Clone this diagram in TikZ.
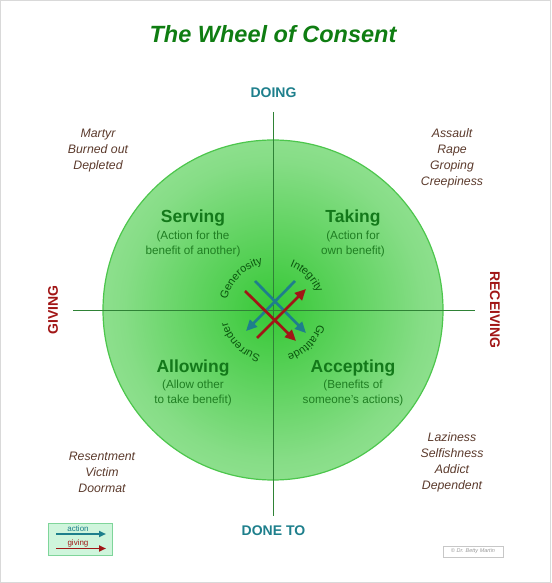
\documentclass[tikz,border=0pt]{standalone}
\usepackage{fontspec}
\setmainfont{Liberation Sans}
\usepackage{tikz}
\usetikzlibrary{arrows.meta,decorations.text}
\usepackage{xcolor}
\definecolor{TitleGreen}{HTML}{0F7D12}
\definecolor{QuadGreen}{HTML}{13791A}
\definecolor{SubGreen}{HTML}{1F7E22}
\definecolor{ArcGreen}{HTML}{0A560E}
\definecolor{AxisGreen}{HTML}{2F8236}
\definecolor{RimGreen}{HTML}{4CC64C}
\definecolor{WheelIn}{HTML}{36C836}
\definecolor{WheelMid}{HTML}{86DD86}
\definecolor{WheelOut}{HTML}{C2F4C2}
\definecolor{DoTeal}{HTML}{1E7F8C}
\definecolor{GiveRed}{HTML}{A11616}
\definecolor{ShadowBrown}{HTML}{5B3A2C}
\definecolor{KeyFill}{HTML}{CFF5DC}
\definecolor{KeyRim}{HTML}{7FD59A}
\newcommand{\fsz}[1]{\fontsize{#1}{#1}\selectfont}
\newcommand{\arcfont}{\fontsize{11}{13}\selectfont}
\pgfdeclareradialshading{wheelshade}{\pgfpoint{0bp}{0bp}}{color(0bp)=(WheelIn); color(22bp)=(WheelMid); color(50bp)=(WheelOut)}
\tikzset{
  quadname/.style={font=\bfseries\fontsize{17.5}{20}\selectfont, text=QuadGreen, anchor=base},
  quadnote/.style={font=\fontsize{11.7}{15}\selectfont, text=SubGreen, align=center, anchor=base},
  shadow/.style={font=\itshape\fontsize{12.3}{16}\selectfont, text=ShadowBrown, align=center, anchor=base},
  axisname/.style={font=\bfseries\fsz{14}},
  arctext/.style={decorate, decoration={text along path, text align=center, text color=ArcGreen, text={|\arcfont|#1}}},
  doarrow/.style={draw=DoTeal, line width=2.7pt, -{Triangle[length=11pt,width=10pt]}},
  givearrow/.style={draw=GiveRed, line width=2.7pt, -{Triangle[length=11pt,width=10pt]}}
}
\begin{document}
\begin{tikzpicture}[x=1pt,y=1pt]
    \useasboundingbox (0,0) rectangle (551,583);
    \draw[draw=black!15,line width=1pt] (0.5,0.5) rectangle (550.5,582.5);
    \node[font=\bfseries\itshape\fsz{23.5},text=TitleGreen,anchor=base] (title) at (273,540.5) {The Wheel of Consent};

    % wheel and axes
    \coordinate (wc) at (273,273);
    \shade[shading=wheelshade,draw=RimGreen,line width=1.2pt] (wc) circle[radius=170];
    \draw[AxisGreen,line width=0.9pt] (273,471) -- (273,67);
    \draw[AxisGreen,line width=0.9pt] (73,273) -- (475,273);

    \node[axisname,text=DoTeal,anchor=base] (doing) at (273.5,485) {DOING};
    \node[axisname,text=DoTeal,anchor=base] (doneto) at (273.5,47.5) {DONE TO};
    \node[axisname,text=GiveRed,rotate=90] (giving) at (53,273) {GIVING};
    \node[axisname,text=GiveRed,rotate=-90] (receiving) at (495,273) {RECEIVING};

    % quadrants (multi-line notes sit on their last baseline)
    \node[quadname] (serving) at (193,360) {Serving};
    \node[quadnote] (serving-note) at (193,328) {(Action for the\\benefit of another)};
    \node[quadname] (taking) at (353,360) {Taking};
    \node[quadnote] (taking-note) at (353,328) {(Action for\\own benefit)};
    \node[quadname] (allowing) at (193,210) {Allowing};
    \node[quadnote] (allowing-note) at (193,179) {(Allow other\\to take benefit)};
    \node[quadname] (accepting) at (353,210) {Accepting};
    \node[quadnote] (accepting-note) at (353,179) {(Benefits of\\someone's actions)};

    % shadow sides
    \node[shadow] (martyr) at (98,413) {Martyr\\Burned out\\Depleted};
    \node[shadow] (assault) at (452,397) {Assault\\Rape\\Groping\\Creepiness};
    \node[shadow] (resentment) at (102,90) {Resentment\\Victim\\Doormat};
    \node[shadow] (laziness) at (452,93) {Laziness\\Selfishness\\Addict\\Dependent};

    % words round the centre
    \path[arctext=Generosity] (wc) ++(185:47) arc[start angle=185,end angle=85,radius=47];
    \path[arctext=Integrity] (wc) ++(95:47) arc[start angle=95,end angle=-5,radius=47];
    \path[arctext=Gratitude] (wc) ++(5:47) arc[start angle=5,end angle=-95,radius=47];
    \path[arctext=Surrender] (wc) ++(275:47) arc[start angle=275,end angle=175,radius=47];

    % arrows
    \coordinate (serve-a) at (255,302); \coordinate (serve-b) at (306,250);
    \coordinate (take-a) at (295,302);  \coordinate (take-b) at (246,252);
    \coordinate (allow-a) at (257,245); \coordinate (allow-b) at (306,294);
    \coordinate (accept-a) at (245,292); \coordinate (accept-b) at (296,242);
    \draw[doarrow] (serve-a) -- (serve-b);
    \draw[doarrow] (take-a) -- (take-b);
    \draw[givearrow] (allow-a) -- (allow-b);
    \draw[givearrow] (accept-a) -- (accept-b);

    % key
    \draw[draw=KeyRim,fill=KeyFill,line width=0.8pt] (48,28) rectangle (112,60);
    \node[font=\fsz{8},text=DoTeal] (key-action) at (78,54) {action};
    \node[font=\fsz{8},text=GiveRed] (key-giving) at (78,39.5) {giving};
    \coordinate (key-do-a) at (56,49); \coordinate (key-do-b) at (106,49);
    \coordinate (key-give-a) at (56,34.5); \coordinate (key-give-b) at (106,34.5);
    \draw[draw=DoTeal,line width=1.8pt,-{Triangle[length=7pt,width=6pt]}] (key-do-a) -- (key-do-b);
    \draw[draw=GiveRed,line width=1.8pt,-{Triangle[length=7pt,width=6pt]}] (key-give-a) -- (key-give-b);

    \draw[draw=black!22,line width=0.6pt] (443,26) rectangle (503,37);
    \node[font=\itshape\fsz{5.5},text=black!40] (credit) at (473,31.5) {© Dr. Betty Martin};
\end{tikzpicture}
\end{document}
